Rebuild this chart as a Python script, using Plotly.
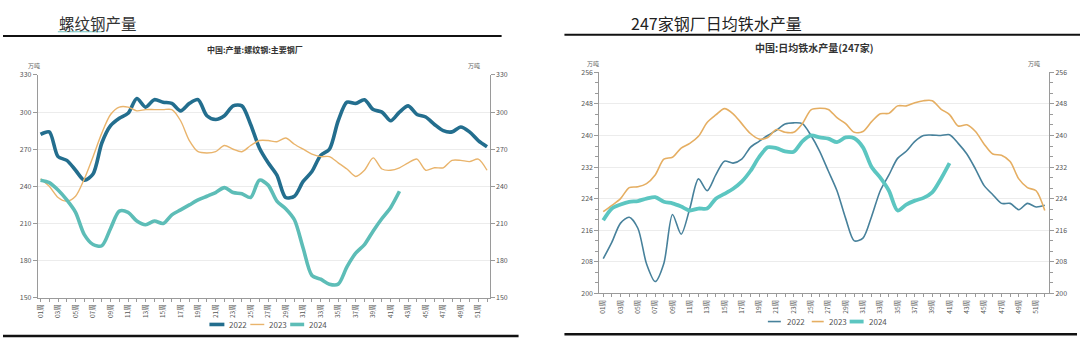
import plotly.graph_objects as go

# ---------------- data ----------------
weeks = [f"{i:02d}周" for i in range(1, 53)]

rebar_2022 = [282, 284, 264, 261, 253, 245, 250, 275, 289, 295, 299, 311, 304, 310, 308, 307,
              301, 307, 310, 297, 294, 297, 305, 305, 290, 271, 259, 249, 231, 232, 244, 252,
              265, 270, 293, 308, 307, 310, 302, 300, 293, 300, 305, 298, 296, 290, 285, 284,
              288, 284, 277, 272]
rebar_2023 = [246, 240, 231, 228, 232, 246, 264, 283, 298, 304, 304, 301, 302, 302, 302, 302,
              293, 277, 268, 267, 268, 273, 270, 268, 273, 277, 277, 276, 279, 274, 270, 266,
              264, 264, 259, 254, 248, 253, 263, 254, 253, 255, 259, 262, 253, 255, 255, 261,
              261, 260, 262, 253]
rebar_2024 = [245, 243, 237, 229, 219, 201, 193, 192, 206, 220, 219, 212, 209, 212, 210, 217,
              221, 225, 229, 232, 235, 239, 235, 234, 231, 245, 241, 228, 222, 213, 190, 168,
              165, 161, 161, 175, 186, 193, 204, 214, 223, 236]

iron_2022 = [208.8, 213, 217.8, 219.3, 216.5, 207.5, 203, 207.6, 220, 215, 221.5, 229, 226, 230,
             233.5, 233, 234, 237, 238.5, 240, 241.3, 242.9, 243.2, 243, 240, 236, 231, 226, 219,
             213.3, 214, 219.5, 226, 230, 234.2, 236, 238.5, 240, 240.1, 240, 240.2, 238, 235.3,
             231.5, 227.3, 225, 222.8, 222.8, 221.2, 222.8, 221.9, 222.3]
iron_2023 = [220.7, 222.3, 224, 226.8, 227, 227.8, 230, 234, 234.5, 236.8, 238, 239.8, 243.3,
             245.2, 246.8, 245.5, 243, 240.5, 239.1, 239.5, 241.5, 240.8, 240.8, 243, 246.5,
             246.9, 246.6, 244.5, 243, 240.8, 241, 243.5, 245.5, 245.6, 247.5, 247.5, 248.3,
             248.8, 248.8, 246.7, 245.3, 242.4, 242.7, 241, 237.8, 235.3, 235, 233.4, 229,
             226.8, 226, 221]
iron_2024 = [218.5, 221.5, 222.5, 223.2, 223.4, 224, 224.4, 223.2, 222.8, 222, 221, 221.5, 221.5,
             224, 225.2, 226.5, 228.3, 231, 234.5, 237, 236.8, 236, 235.9, 238.5, 240, 239.5,
             239.2, 238.3, 239.5, 239.3, 237, 232, 229.3, 226, 221, 222.5, 223.5, 224.2, 225.6,
             229, 233]

years = ["2022", "2023", "2024"]
left_title = "中国:产量:螺纹钢:主要钢厂"
right_title = "中国:日均铁水产量(247家)"
left_section = "螺纹钢产量"
right_section = "247家钢厂日均铁水产量"
unit = "万吨"

# ---------------- style ----------------
W, H = 1080, 344
FONT = "Noto Sans CJK SC, Noto Sans, sans-serif"
L_COLORS = ["#236e8e", "#e9b46c", "#5dbdb7"]
L_WIDTHS = [3.6, 1.4, 3.6]
R_COLORS = ["#47819b", "#e5ae62", "#5cc6c1"]
R_WIDTHS = [1.6, 1.6, 3.8]
AX = "#9a9a9a"
GRID = "#ececec"
TICKFONT = dict(family=FONT, size=7, color="#555555")
XTICKFONT = dict(family=FONT, size=6.5, color="#555555")


def px(x):
    return x / W


def py(y):
    return 1 - y / H


fig = go.Figure()

for name, ys, c, w in zip(years, [rebar_2022, rebar_2023, rebar_2024], L_COLORS, L_WIDTHS):
    fig.add_trace(go.Scatter(x=weeks[:len(ys)], y=ys, name=name, mode="lines",
                             line=dict(color=c, width=w, shape="spline", smoothing=0.8),
                             xaxis="x", yaxis="y", showlegend=False))
# carrier for the right-hand mirror axis
fig.add_trace(go.Scatter(x=weeks, y=rebar_2023, mode="lines", line=dict(color="rgba(0,0,0,0)", width=0),
                         hoverinfo="skip", showlegend=False, xaxis="x", yaxis="y2"))

for name, ys, c, w in zip(years, [iron_2022, iron_2023, iron_2024], R_COLORS, R_WIDTHS):
    fig.add_trace(go.Scatter(x=weeks[:len(ys)], y=ys, name=name, mode="lines",
                             line=dict(color=c, width=w, shape="spline", smoothing=0.8),
                             xaxis="x2", yaxis="y3", showlegend=False))
fig.add_trace(go.Scatter(x=weeks, y=iron_2023, mode="lines", line=dict(color="rgba(0,0,0,0)", width=0),
                         hoverinfo="skip", showlegend=False, xaxis="x2", yaxis="y4"))

tick_text = [w if i % 2 == 0 else "" for i, w in enumerate(weeks)]

xcommon = dict(type="category", tickmode="array", tickvals=weeks, ticktext=tick_text,
               tickangle=-90, tickfont=XTICKFONT, showline=True, linecolor=AX, linewidth=1,
               ticks="outside", ticklen=3, tickcolor=AX, showgrid=False, zeroline=False,
               fixedrange=True)
ycommon = dict(showline=True, linecolor=AX, linewidth=1, ticks="outside", ticklen=4,
               tickcolor=AX, tickfont=TICKFONT, zeroline=False, fixedrange=True)

fig.update_layout(
    width=W, height=H, margin=dict(l=0, r=0, t=0, b=0),
    paper_bgcolor="white", plot_bgcolor="white", font=dict(family=FONT),
    xaxis=dict(domain=[px(35), px(488)], anchor="y", range=[-0.3, 51.3], **xcommon),
    yaxis=dict(domain=[py(300.5), py(71)], anchor="x", range=[150, 330], dtick=30, tick0=150,
               showgrid=True, gridcolor=GRID, gridwidth=1, **ycommon),
    yaxis2=dict(overlaying="y", side="right", anchor="x", range=[150, 330], dtick=30, tick0=150,
                showgrid=False, **ycommon),
    xaxis2=dict(domain=[px(598), px(1049)], anchor="y3", range=[-0.45, 51.5], **xcommon),
    yaxis3=dict(domain=[py(296), py(68.3)], anchor="x2", range=[200, 256], dtick=8, tick0=200,
                showgrid=True, gridcolor=GRID, gridwidth=1,
                minor=dict(dtick=8 / 3, ticks="outside", ticklen=3, tickcolor=AX, showgrid=False),
                **ycommon),
    yaxis4=dict(overlaying="y3", side="right", anchor="x2", range=[200, 256], dtick=8, tick0=200,
                showgrid=False,
                minor=dict(dtick=8 / 3, ticks="outside", ticklen=3, tickcolor=AX, showgrid=False),
                **ycommon),
)

annotations = [
    dict(text=left_section, x=px(54), y=py(17), xanchor="left", yanchor="middle",
         font=dict(family=FONT, size=15.5, color="#333333")),
    dict(text=right_section, x=px(628), y=py(17), xanchor="left", yanchor="middle",
         font=dict(family=FONT, size=16, color="#222222")),
    dict(text="<b>" + left_title + "</b>", x=px(253), y=py(45), xanchor="center", yanchor="middle",
         font=dict(family=FONT, size=8, color="#333333")),
    dict(text="<b>" + right_title + "</b>", x=px(814), y=py(43), xanchor="center", yanchor="middle",
         font=dict(family=FONT, size=10, color="#333333")),
    dict(text=unit, x=px(31), y=py(61), xanchor="center", yanchor="middle",
         font=dict(family=FONT, size=6, color="#666666")),
    dict(text=unit, x=px(472), y=py(61), xanchor="center", yanchor="middle",
         font=dict(family=FONT, size=6, color="#666666")),
    dict(text=unit, x=px(592), y=py(59), xanchor="center", yanchor="middle",
         font=dict(family=FONT, size=6, color="#666666")),
    dict(text=unit, x=px(1034), y=py(59), xanchor="center", yanchor="middle",
         font=dict(family=FONT, size=6, color="#666666")),
]

shapes = [
    # section rules
    dict(type="line", xref="paper", yref="paper", x0=px(0), x1=px(500), y0=py(31), y1=py(31),
         line=dict(color="#111111", width=2)),
    dict(type="line", xref="paper", yref="paper", x0=px(563), x1=px(1080), y0=py(29.5), y1=py(29.5),
         line=dict(color="#111111", width=2)),
    dict(type="line", xref="paper", yref="paper", x0=px(0), x1=px(517), y0=py(340), y1=py(340),
         line=dict(color="#111111", width=2.5)),
    dict(type="line", xref="paper", yref="paper", x0=px(563), x1=px(1077), y0=py(338), y1=py(338),
         line=dict(color="#111111", width=2.5)),
    # squiggle under section title
    dict(type="line", xref="paper", yref="paper", x0=px(55), x1=px(100), y0=py(26.5), y1=py(26.5),
         line=dict(color="#6fc3c0", width=1.2), layer="above"),
]

# manual legends
left_leg = [(207, 222, 225), (248, 262, 265), (288, 302, 305)]
right_leg = [(767, 780, 784), (811, 823, 826), (849, 863, 866)]
for (x0, x1, xt), name, c, w in zip(left_leg, years, L_COLORS, L_WIDTHS):
    shapes.append(dict(type="line", xref="paper", yref="paper", x0=px(x0), x1=px(x1),
                       y0=py(328), y1=py(328), line=dict(color=c, width=w)))
    annotations.append(dict(text=name, x=px(xt), y=py(328), xanchor="left", yanchor="middle",
                            font=dict(family=FONT, size=8, color="#555555")))
for (x0, x1, xt), name, c, w in zip(right_leg, years, R_COLORS, R_WIDTHS):
    shapes.append(dict(type="line", xref="paper", yref="paper", x0=px(x0), x1=px(x1),
                       y0=py(325), y1=py(325), line=dict(color=c, width=w)))
    annotations.append(dict(text=name, x=px(xt), y=py(325), xanchor="left", yanchor="middle",
                            font=dict(family=FONT, size=8, color="#555555")))

for a in annotations:
    a.update(xref="paper", yref="paper", showarrow=False)

fig.update_layout(annotations=annotations, shapes=shapes)

fig.write_html("out.html")
